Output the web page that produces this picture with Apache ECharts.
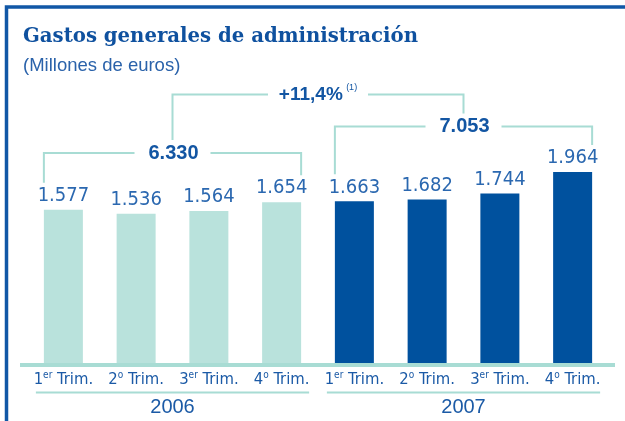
<!DOCTYPE html>
<html>
<head>
<meta charset="utf-8">
<script src="https://cdn.jsdelivr.net/npm/echarts@6/dist/echarts.min.js"></script>
<style>
html, body { margin: 0; padding: 0; background: #fff; }
#main { width: 625px; height: 421px; }
</style>
</head>
<body>
<div id="main"></div>
<script>
var years = ['2006', '2007'];
var quarters = ['1er Trim.', '2o Trim.', '3er Trim.', '4o Trim.'];
var values2006 = [1577, 1536, 1564, 1654];
var values2007 = [1663, 1682, 1744, 1964];
var yearTotals = [6330, 7053];
var growthText = '+11,4%';
var growthNote = '(1)';

var categories = [];
years.forEach(function (y) {
    quarters.forEach(function (q) { categories.push(y + ' ' + q); });
});
var values = values2006.concat(values2007);

var narrow = "'Liberation Sans Narrow', 'DejaVu Sans Condensed', sans-serif";
var blue = '#1b5aa6';
var teal = '#a8dcd4';

function fmt(v) {
    return String(v).replace(/\B(?=(\d{3})+(?!\d))/g, '.');
}

var myChart = echarts.init(document.getElementById('main'));
var option = {
    animation: false,
    title: {
        text: 'Gastos generales de administración',
        subtext: '(Millones de euros)',
        left: 18,
        top: 22,
        itemGap: 9,
        textStyle: { fontFamily: "'DejaVu Serif', serif", fontWeight: 'bold', fontSize: 19.7, color: '#0f519f' },
        subtextStyle: { fontFamily: "'Liberation Sans', sans-serif", fontSize: 18.5, color: '#2a62aa' }
    },
    grid: { left: 27, right: 16, top: 120, bottom: 58 },
    xAxis: [{
        type: 'category',
        data: categories,
        axisLine: { show: false },
        axisTick: { show: false },
        axisLabel: {
            interval: 0,
            margin: 7,
            formatter: function (v) {
                var m = v.replace(/^\d+ /, '').match(/^(\d)(\S+) (.*)$/);
                return '{n|' + m[1] + '}{s|' + m[2] + '}{n| ' + m[3] + '}';
            },
            rich: {
                n: { fontFamily: narrow, fontSize: 16.5, color: blue, lineHeight: 20 },
                s: { fontFamily: narrow, fontSize: 10, color: blue, lineHeight: 20, verticalAlign: 'top', padding: [0, 0, 6, 0] }
            }
        }
    }, {
        type: 'category',
        data: years,
        position: 'bottom',
        offset: 26,
        axisLine: { show: false },
        axisTick: { show: false },
        axisLabel: { fontFamily: "'Liberation Sans', sans-serif", fontSize: 20, color: blue }
    }],
    yAxis: { type: 'value', min: 0, max: 2500, show: false },
    series: [{
        type: 'bar',
        barWidth: 39,
        data: values,
        itemStyle: {
            color: function (p) { return p.dataIndex < values2006.length ? '#b9e2dc' : '#00519e'; }
        },
        label: {
            show: true,
            position: 'top',
            distance: 4,
            fontFamily: narrow,
            fontSize: 20,
            color: '#2b68b0',
            formatter: function (p) { return fmt(p.value); }
        }
    }]
};
myChart.setOption(option);

// brackets, frame and baseline placed from the bar positions
var half = 19.5;
var bracketY = [153, 126.5];
var topY = 94.5;
var g = [];
function line(pts, w, c) {
    g.push({ type: 'polyline', shape: { points: pts }, style: { stroke: c || teal, lineWidth: w || 2, fill: null }, silent: true });
}
function px(i) { return myChart.convertToPixel({ seriesIndex: 0 }, [i, values[i]]); }

g.push({ type: 'polyline', shape: { points: [[6.5, 421], [6.5, 7], [625, 7]] }, style: { stroke: '#1157a6', lineWidth: 3.5, fill: null }, silent: true });
line([[20, 365], [615, 365]], 4, teal);

var mids = [];
years.forEach(function (y, k) {
    var f = k * 4, l = f + 3;
    var a = px(f), b = px(l);
    var xl = a[0] - half, xr = b[0] + half, yb = bracketY[k];
    var mid = (xl + xr) / 2;
    mids.push(mid);
    line([[xl, a[1] - 27], [xl, yb], [mid - 38, yb]]);
    line([[mid + 38, yb], [xr, yb], [xr, b[1] - 27]]);
    g.push({ type: 'text', x: mid + 1, y: yb, style: { text: fmt(yearTotals[k]), fontFamily: "'Liberation Sans', sans-serif", fontWeight: 'bold', fontSize: 20, fill: '#1356a3', align: 'center', verticalAlign: 'middle' }, silent: true });
    line([[xl - 8, 392.5], [xr + 8, 392.5]], 2, teal);
});

var cm = (mids[0] + mids[1]) / 2;
line([[mids[0], bracketY[0] - 13], [mids[0], topY], [cm - 50, topY]]);
line([[cm + 50, topY], [mids[1], topY], [mids[1], bracketY[1] - 13]]);
g.push({
    type: 'text', x: cm, y: topY,
    style: {
        text: '{b|' + growthText + '} {s|' + growthNote + '}',
        align: 'center', verticalAlign: 'middle',
        rich: {
            b: { fontFamily: "'Liberation Sans', sans-serif", fontWeight: 'bold', fontSize: 19, fill: '#1356a3', lineHeight: 22 },
            s: { fontFamily: "'Liberation Sans', sans-serif", fontSize: 9, fill: '#1356a3', lineHeight: 22, verticalAlign: 'top' }
        }
    },
    silent: true
});

myChart.setOption({ graphic: g });
</script>
</body>
</html>
